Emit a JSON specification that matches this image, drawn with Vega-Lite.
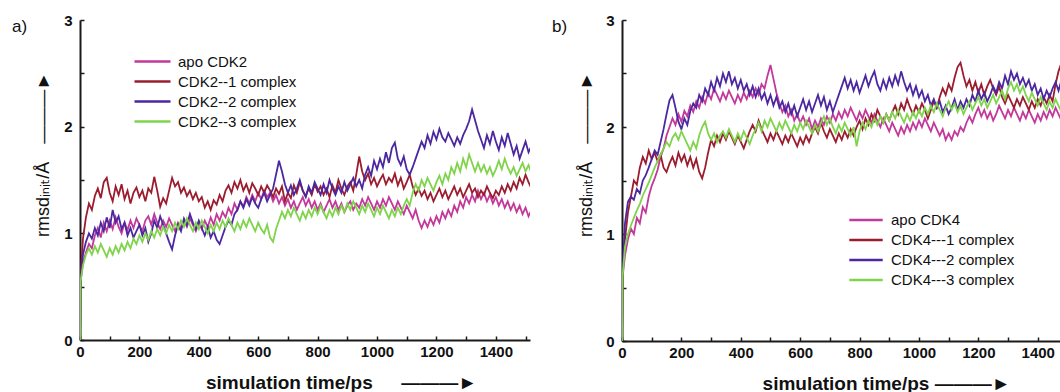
{
"$schema": "https://vega.github.io/schema/vega-lite/v6.json",
"background": "white",
"padding": {"left": 12, "top": 13, "right": 0, "bottom": 0},
"bounds": "flush",
"spacing": 92,
"resolve": {"scale": {"color": "independent", "x": "independent", "y": "independent"}, "legend": {"color": "independent"}},
"config": {
  "view": {"stroke": null},
  "axis": {"grid": false, "domainColor": "#1a1a1a", "domainWidth": 2, "tickColor": "#1a1a1a", "tickWidth": 1.5, "tickSize": -4, "labelFont": "Liberation Sans", "labelFontSize": 15, "labelFontWeight": "bold", "labelColor": "#111", "labelFlush": false, "labelOverlap": false, "titleFont": "Liberation Sans, DejaVu Sans", "titleColor": "#111"},
  "axisX": {"labelPadding": 8, "titleFontSize": 19, "titleFontWeight": "bold", "titleY": 48, "titleBaseline": "alphabetic", "titleAlign": "center"},
  "axisY": {"labelPadding": 12, "titleFontSize": 18, "titleFontWeight": "normal", "titleAngle": -90, "titleX": -37, "titleY": 134, "titleBaseline": "middle", "titleAlign": "center"},
  "legend": {"orient": "none", "direction": "vertical", "title": null, "symbolType": "M-2,0H2", "symbolSize": 324, "symbolStrokeWidth": 2.5, "labelFont": "Liberation Sans", "labelFontSize": 15, "labelColor": "#111", "labelOffset": 15, "rowPadding": 1, "padding": 0, "labelLimit": 300}
},
"datasets": {
"a": [
{"t":0,"apo":0,"c1":0,"c2":0,"c3":0},
{"t":2,"apo":0.55,"c1":0.58,"c2":0.56,"c3":0.55},
{"t":10,"apo":0.72,"c1":0.95,"c2":0.80,"c3":0.70},
{"t":20,"apo":0.82,"c1":1.15,"c2":0.92,"c3":0.80},
{"t":30,"apo":0.90,"c1":1.28,"c2":1.00,"c3":0.86},
{"t":40,"apo":0.86,"c1":1.22,"c2":0.95,"c3":0.80},
{"t":50,"apo":0.98,"c1":1.35,"c2":1.05,"c3":0.88},
{"t":60,"apo":1.05,"c1":1.42,"c2":0.98,"c3":0.82},
{"t":70,"apo":0.96,"c1":1.33,"c2":1.10,"c3":0.90},
{"t":80,"apo":1.10,"c1":1.48,"c2":1.02,"c3":0.84},
{"t":90,"apo":1.02,"c1":1.52,"c2":1.15,"c3":0.78},
{"t":100,"apo":1.12,"c1":1.38,"c2":1.05,"c3":0.86},
{"t":110,"apo":1.04,"c1":1.30,"c2":1.22,"c3":0.80},
{"t":120,"apo":1.15,"c1":1.44,"c2":1.10,"c3":0.88},
{"t":130,"apo":1.06,"c1":1.36,"c2":1.16,"c3":0.82},
{"t":140,"apo":1.00,"c1":1.46,"c2":1.04,"c3":0.90},
{"t":150,"apo":1.10,"c1":1.32,"c2":1.10,"c3":0.84},
{"t":160,"apo":1.03,"c1":1.40,"c2":0.98,"c3":0.92},
{"t":170,"apo":1.12,"c1":1.28,"c2":1.05,"c3":0.86},
{"t":180,"apo":1.05,"c1":1.38,"c2":0.96,"c3":0.95},
{"t":190,"apo":1.14,"c1":1.43,"c2":1.02,"c3":0.90},
{"t":200,"apo":1.08,"c1":1.34,"c2":1.08,"c3":0.98},
{"t":210,"apo":1.02,"c1":1.40,"c2":0.98,"c3":0.92},
{"t":220,"apo":1.12,"c1":1.30,"c2":1.05,"c3":1.00},
{"t":230,"apo":1.16,"c1":1.42,"c2":0.92,"c3":0.94},
{"t":240,"apo":1.08,"c1":1.38,"c2":1.00,"c3":1.02},
{"t":250,"apo":1.18,"c1":1.53,"c2":1.12,"c3":0.96},
{"t":260,"apo":1.10,"c1":1.40,"c2":1.05,"c3":1.04},
{"t":270,"apo":1.04,"c1":1.25,"c2":1.16,"c3":0.98},
{"t":280,"apo":1.12,"c1":1.33,"c2":1.08,"c3":1.06},
{"t":290,"apo":1.06,"c1":1.28,"c2":1.00,"c3":1.00},
{"t":300,"apo":1.14,"c1":1.40,"c2":0.92,"c3":1.08},
{"t":310,"apo":1.08,"c1":1.52,"c2":0.85,"c3":1.02},
{"t":320,"apo":1.02,"c1":1.44,"c2":0.98,"c3":1.10},
{"t":330,"apo":1.10,"c1":1.48,"c2":1.08,"c3":1.04},
{"t":340,"apo":1.05,"c1":1.38,"c2":1.02,"c3":1.12},
{"t":350,"apo":1.12,"c1":1.43,"c2":1.14,"c3":1.06},
{"t":360,"apo":1.06,"c1":1.35,"c2":1.08,"c3":1.14},
{"t":370,"apo":1.14,"c1":1.40,"c2":1.18,"c3":1.08},
{"t":380,"apo":1.08,"c1":1.32,"c2":1.10,"c3":1.02},
{"t":390,"apo":1.02,"c1":1.38,"c2":1.04,"c3":1.10},
{"t":400,"apo":1.10,"c1":1.30,"c2":1.12,"c3":1.04},
{"t":410,"apo":1.04,"c1":1.34,"c2":1.05,"c3":1.12},
{"t":420,"apo":1.12,"c1":1.24,"c2":0.98,"c3":1.06},
{"t":430,"apo":1.06,"c1":1.30,"c2":1.06,"c3":1.00},
{"t":440,"apo":1.15,"c1":1.22,"c2":0.96,"c3":1.08},
{"t":450,"apo":1.08,"c1":1.31,"c2":1.02,"c3":1.02},
{"t":460,"apo":1.18,"c1":1.27,"c2":0.94,"c3":1.10},
{"t":470,"apo":1.12,"c1":1.36,"c2":0.90,"c3":1.04},
{"t":480,"apo":1.20,"c1":1.30,"c2":0.98,"c3":1.12},
{"t":490,"apo":1.15,"c1":1.40,"c2":1.06,"c3":1.06},
{"t":500,"apo":1.24,"c1":1.45,"c2":1.12,"c3":1.14},
{"t":510,"apo":1.18,"c1":1.38,"c2":1.08,"c3":1.08},
{"t":520,"apo":1.28,"c1":1.48,"c2":1.18,"c3":1.02},
{"t":530,"apo":1.22,"c1":1.42,"c2":1.22,"c3":1.10},
{"t":540,"apo":1.30,"c1":1.50,"c2":1.30,"c3":1.04},
{"t":550,"apo":1.25,"c1":1.40,"c2":1.24,"c3":1.12},
{"t":560,"apo":1.34,"c1":1.46,"c2":1.32,"c3":1.06},
{"t":570,"apo":1.28,"c1":1.38,"c2":1.26,"c3":1.14},
{"t":580,"apo":1.36,"c1":1.47,"c2":1.34,"c3":1.08},
{"t":590,"apo":1.30,"c1":1.42,"c2":1.28,"c3":1.02},
{"t":600,"apo":1.38,"c1":1.36,"c2":1.24,"c3":1.10},
{"t":610,"apo":1.32,"c1":1.44,"c2":1.32,"c3":1.04},
{"t":620,"apo":1.40,"c1":1.38,"c2":1.38,"c3":1.00},
{"t":630,"apo":1.34,"c1":1.45,"c2":1.30,"c3":1.08},
{"t":640,"apo":1.38,"c1":1.40,"c2":1.36,"c3":0.96},
{"t":650,"apo":1.30,"c1":1.34,"c2":1.42,"c3":0.92},
{"t":660,"apo":1.36,"c1":1.42,"c2":1.55,"c3":1.04},
{"t":670,"apo":1.28,"c1":1.37,"c2":1.68,"c3":1.12},
{"t":680,"apo":1.34,"c1":1.44,"c2":1.58,"c3":1.20},
{"t":690,"apo":1.26,"c1":1.30,"c2":1.46,"c3":1.14},
{"t":700,"apo":1.32,"c1":1.38,"c2":1.38,"c3":1.22},
{"t":710,"apo":1.24,"c1":1.33,"c2":1.45,"c3":1.16},
{"t":720,"apo":1.30,"c1":1.45,"c2":1.36,"c3":1.24},
{"t":730,"apo":1.22,"c1":1.38,"c2":1.42,"c3":1.18},
{"t":740,"apo":1.28,"c1":1.48,"c2":1.50,"c3":1.12},
{"t":750,"apo":1.34,"c1":1.40,"c2":1.40,"c3":1.20},
{"t":760,"apo":1.26,"c1":1.35,"c2":1.34,"c3":1.14},
{"t":770,"apo":1.32,"c1":1.42,"c2":1.44,"c3":1.22},
{"t":780,"apo":1.24,"c1":1.36,"c2":1.38,"c3":1.16},
{"t":790,"apo":1.30,"c1":1.46,"c2":1.48,"c3":1.24},
{"t":800,"apo":1.22,"c1":1.39,"c2":1.42,"c3":1.18},
{"t":810,"apo":1.28,"c1":1.44,"c2":1.36,"c3":1.26},
{"t":820,"apo":1.20,"c1":1.36,"c2":1.46,"c3":1.20},
{"t":830,"apo":1.26,"c1":1.42,"c2":1.38,"c3":1.14},
{"t":840,"apo":1.32,"c1":1.34,"c2":1.50,"c3":1.22},
{"t":850,"apo":1.24,"c1":1.45,"c2":1.42,"c3":1.16},
{"t":860,"apo":1.30,"c1":1.38,"c2":1.36,"c3":1.24},
{"t":870,"apo":1.22,"c1":1.50,"c2":1.44,"c3":1.18},
{"t":880,"apo":1.28,"c1":1.42,"c2":1.38,"c3":1.26},
{"t":890,"apo":1.20,"c1":1.36,"c2":1.48,"c3":1.20},
{"t":900,"apo":1.26,"c1":1.44,"c2":1.40,"c3":1.28},
{"t":910,"apo":1.30,"c1":1.48,"c2":1.46,"c3":1.22},
{"t":920,"apo":1.22,"c1":1.40,"c2":1.52,"c3":1.30},
{"t":930,"apo":1.28,"c1":1.55,"c2":1.44,"c3":1.24},
{"t":940,"apo":1.24,"c1":1.72,"c2":1.50,"c3":1.18},
{"t":950,"apo":1.32,"c1":1.58,"c2":1.42,"c3":1.26},
{"t":960,"apo":1.26,"c1":1.50,"c2":1.55,"c3":1.20},
{"t":970,"apo":1.34,"c1":1.56,"c2":1.62,"c3":1.28},
{"t":980,"apo":1.28,"c1":1.46,"c2":1.54,"c3":1.22},
{"t":990,"apo":1.22,"c1":1.52,"c2":1.68,"c3":1.16},
{"t":1000,"apo":1.30,"c1":1.44,"c2":1.60,"c3":1.24},
{"t":1010,"apo":1.24,"c1":1.50,"c2":1.70,"c3":1.18},
{"t":1020,"apo":1.32,"c1":1.55,"c2":1.62,"c3":1.26},
{"t":1030,"apo":1.26,"c1":1.46,"c2":1.76,"c3":1.20},
{"t":1040,"apo":1.34,"c1":1.52,"c2":1.66,"c3":1.14},
{"t":1050,"apo":1.28,"c1":1.48,"c2":1.80,"c3":1.22},
{"t":1060,"apo":1.22,"c1":1.56,"c2":1.85,"c3":1.16},
{"t":1070,"apo":1.30,"c1":1.45,"c2":1.70,"c3":1.24},
{"t":1080,"apo":1.24,"c1":1.52,"c2":1.64,"c3":1.18},
{"t":1090,"apo":1.18,"c1":1.42,"c2":1.72,"c3":1.26},
{"t":1100,"apo":1.26,"c1":1.48,"c2":1.60,"c3":1.32},
{"t":1110,"apo":1.20,"c1":1.55,"c2":1.55,"c3":1.26},
{"t":1120,"apo":1.14,"c1":1.44,"c2":1.62,"c3":1.38},
{"t":1130,"apo":1.22,"c1":1.36,"c2":1.70,"c3":1.46},
{"t":1140,"apo":1.12,"c1":1.42,"c2":1.78,"c3":1.40},
{"t":1150,"apo":1.05,"c1":1.35,"c2":1.86,"c3":1.50},
{"t":1160,"apo":1.12,"c1":1.40,"c2":1.80,"c3":1.44},
{"t":1170,"apo":1.06,"c1":1.32,"c2":1.92,"c3":1.52},
{"t":1180,"apo":1.14,"c1":1.38,"c2":1.84,"c3":1.46},
{"t":1190,"apo":1.08,"c1":1.30,"c2":1.95,"c3":1.40},
{"t":1200,"apo":1.16,"c1":1.36,"c2":1.88,"c3":1.48},
{"t":1210,"apo":1.10,"c1":1.42,"c2":1.98,"c3":1.54},
{"t":1220,"apo":1.20,"c1":1.34,"c2":1.90,"c3":1.46},
{"t":1230,"apo":1.14,"c1":1.40,"c2":1.86,"c3":1.56},
{"t":1240,"apo":1.22,"c1":1.32,"c2":1.94,"c3":1.50},
{"t":1250,"apo":1.16,"c1":1.38,"c2":1.88,"c3":1.62},
{"t":1260,"apo":1.26,"c1":1.44,"c2":1.82,"c3":1.56},
{"t":1270,"apo":1.20,"c1":1.36,"c2":1.90,"c3":1.66},
{"t":1280,"apo":1.30,"c1":1.42,"c2":1.84,"c3":1.58},
{"t":1290,"apo":1.24,"c1":1.34,"c2":1.92,"c3":1.70},
{"t":1300,"apo":1.34,"c1":1.40,"c2":1.98,"c3":1.62},
{"t":1310,"apo":1.28,"c1":1.46,"c2":2.05,"c3":1.74},
{"t":1320,"apo":1.36,"c1":1.38,"c2":2.16,"c3":1.66},
{"t":1330,"apo":1.30,"c1":1.42,"c2":2.06,"c3":1.58},
{"t":1340,"apo":1.40,"c1":1.34,"c2":1.96,"c3":1.66},
{"t":1350,"apo":1.32,"c1":1.40,"c2":1.88,"c3":1.58},
{"t":1360,"apo":1.38,"c1":1.36,"c2":1.80,"c3":1.64},
{"t":1370,"apo":1.30,"c1":1.44,"c2":1.92,"c3":1.56},
{"t":1380,"apo":1.36,"c1":1.38,"c2":1.84,"c3":1.62},
{"t":1390,"apo":1.28,"c1":1.33,"c2":1.96,"c3":1.54},
{"t":1400,"apo":1.34,"c1":1.40,"c2":1.86,"c3":1.60},
{"t":1410,"apo":1.26,"c1":1.36,"c2":1.78,"c3":1.68},
{"t":1420,"apo":1.32,"c1":1.44,"c2":1.90,"c3":1.60},
{"t":1430,"apo":1.24,"c1":1.38,"c2":1.82,"c3":1.70},
{"t":1440,"apo":1.30,"c1":1.46,"c2":1.94,"c3":1.62},
{"t":1450,"apo":1.22,"c1":1.40,"c2":1.84,"c3":1.56},
{"t":1460,"apo":1.28,"c1":1.48,"c2":1.74,"c3":1.62},
{"t":1470,"apo":1.20,"c1":1.42,"c2":1.82,"c3":1.54},
{"t":1480,"apo":1.26,"c1":1.52,"c2":1.70,"c3":1.60},
{"t":1490,"apo":1.18,"c1":1.46,"c2":1.78,"c3":1.66},
{"t":1500,"apo":1.24,"c1":1.55,"c2":1.86,"c3":1.58},
{"t":1510,"apo":1.16,"c1":1.48,"c2":1.76,"c3":1.64},
{"t":1520,"apo":1.22,"c1":1.42,"c2":1.82,"c3":1.56}
],
"b": [
{"t":0,"apo":0,"c1":0,"c2":0,"c3":0},
{"t":2,"apo":0.60,"c1":0.62,"c2":0.64,"c3":0.60},
{"t":10,"apo":0.80,"c1":0.95,"c2":1.10,"c3":0.88},
{"t":20,"apo":0.95,"c1":1.20,"c2":1.30,"c3":1.00},
{"t":30,"apo":1.05,"c1":1.35,"c2":1.35,"c3":1.08},
{"t":40,"apo":1.00,"c1":1.50,"c2":1.32,"c3":1.15},
{"t":50,"apo":1.15,"c1":1.46,"c2":1.42,"c3":1.22},
{"t":60,"apo":1.10,"c1":1.62,"c2":1.38,"c3":1.28},
{"t":70,"apo":1.25,"c1":1.72,"c2":1.50,"c3":1.36},
{"t":80,"apo":1.20,"c1":1.66,"c2":1.55,"c3":1.42},
{"t":90,"apo":1.35,"c1":1.78,"c2":1.62,"c3":1.48},
{"t":100,"apo":1.45,"c1":1.70,"c2":1.70,"c3":1.55},
{"t":110,"apo":1.52,"c1":1.76,"c2":1.78,"c3":1.62},
{"t":120,"apo":1.60,"c1":1.68,"c2":1.74,"c3":1.68},
{"t":130,"apo":1.72,"c1":1.74,"c2":1.86,"c3":1.74},
{"t":140,"apo":1.80,"c1":1.62,"c2":1.98,"c3":1.80},
{"t":150,"apo":1.92,"c1":1.58,"c2":2.12,"c3":1.86},
{"t":160,"apo":2.00,"c1":1.66,"c2":2.25,"c3":1.82},
{"t":170,"apo":2.08,"c1":1.72,"c2":2.30,"c3":1.90},
{"t":180,"apo":2.02,"c1":1.64,"c2":2.18,"c3":1.94},
{"t":190,"apo":2.12,"c1":1.76,"c2":2.05,"c3":1.88},
{"t":200,"apo":2.05,"c1":1.68,"c2":1.98,"c3":1.96},
{"t":210,"apo":2.15,"c1":1.74,"c2":2.08,"c3":1.90},
{"t":220,"apo":2.10,"c1":1.64,"c2":2.02,"c3":1.84},
{"t":230,"apo":2.20,"c1":1.72,"c2":2.15,"c3":1.78},
{"t":240,"apo":2.14,"c1":1.62,"c2":2.22,"c3":1.86},
{"t":250,"apo":2.24,"c1":1.70,"c2":2.18,"c3":1.80},
{"t":260,"apo":2.18,"c1":1.58,"c2":2.30,"c3":1.92},
{"t":270,"apo":2.28,"c1":1.52,"c2":2.24,"c3":2.00},
{"t":280,"apo":2.22,"c1":1.62,"c2":2.36,"c3":2.05},
{"t":290,"apo":2.32,"c1":1.76,"c2":2.30,"c3":1.94},
{"t":300,"apo":2.26,"c1":1.88,"c2":2.42,"c3":1.88},
{"t":310,"apo":2.36,"c1":1.82,"c2":2.34,"c3":1.94},
{"t":320,"apo":2.30,"c1":1.92,"c2":2.46,"c3":1.86},
{"t":330,"apo":2.24,"c1":1.86,"c2":2.38,"c3":1.92},
{"t":340,"apo":2.32,"c1":1.94,"c2":2.50,"c3":1.96},
{"t":350,"apo":2.26,"c1":1.88,"c2":2.42,"c3":1.90},
{"t":360,"apo":2.34,"c1":1.96,"c2":2.52,"c3":1.98},
{"t":370,"apo":2.28,"c1":1.90,"c2":2.40,"c3":1.92},
{"t":380,"apo":2.22,"c1":1.84,"c2":2.46,"c3":1.86},
{"t":390,"apo":2.30,"c1":1.92,"c2":2.36,"c3":1.94},
{"t":400,"apo":2.24,"c1":1.86,"c2":2.44,"c3":1.88},
{"t":410,"apo":2.32,"c1":1.80,"c2":2.34,"c3":1.96},
{"t":420,"apo":2.26,"c1":1.88,"c2":2.40,"c3":1.90},
{"t":430,"apo":2.34,"c1":1.96,"c2":2.30,"c3":1.84},
{"t":440,"apo":2.28,"c1":2.02,"c2":2.38,"c3":1.92},
{"t":450,"apo":2.36,"c1":1.96,"c2":2.28,"c3":1.98},
{"t":460,"apo":2.30,"c1":2.06,"c2":2.36,"c3":2.04},
{"t":470,"apo":2.40,"c1":1.98,"c2":2.26,"c3":1.96},
{"t":480,"apo":2.36,"c1":1.92,"c2":2.32,"c3":2.06},
{"t":490,"apo":2.48,"c1":1.86,"c2":2.22,"c3":2.00},
{"t":500,"apo":2.58,"c1":1.94,"c2":2.30,"c3":2.08},
{"t":510,"apo":2.45,"c1":1.88,"c2":2.20,"c3":2.02},
{"t":520,"apo":2.32,"c1":1.96,"c2":2.28,"c3":1.96},
{"t":530,"apo":2.22,"c1":1.90,"c2":2.18,"c3":2.04},
{"t":540,"apo":2.14,"c1":1.84,"c2":2.24,"c3":1.98},
{"t":550,"apo":2.20,"c1":1.92,"c2":2.14,"c3":2.06},
{"t":560,"apo":2.10,"c1":1.86,"c2":2.22,"c3":2.00},
{"t":570,"apo":2.16,"c1":1.94,"c2":2.12,"c3":1.94},
{"t":580,"apo":2.06,"c1":1.88,"c2":2.20,"c3":2.02},
{"t":590,"apo":2.12,"c1":1.82,"c2":2.10,"c3":1.96},
{"t":600,"apo":2.04,"c1":1.90,"c2":2.18,"c3":2.04},
{"t":610,"apo":2.10,"c1":1.84,"c2":2.26,"c3":1.98},
{"t":620,"apo":2.02,"c1":1.92,"c2":2.16,"c3":2.06},
{"t":630,"apo":2.08,"c1":1.86,"c2":2.24,"c3":2.00},
{"t":640,"apo":1.98,"c1":1.94,"c2":2.14,"c3":1.94},
{"t":650,"apo":2.06,"c1":2.00,"c2":2.22,"c3":2.02},
{"t":660,"apo":2.00,"c1":1.94,"c2":2.30,"c3":1.96},
{"t":670,"apo":2.08,"c1":2.04,"c2":2.20,"c3":2.04},
{"t":680,"apo":2.02,"c1":1.96,"c2":2.28,"c3":2.10},
{"t":690,"apo":2.10,"c1":1.90,"c2":2.16,"c3":2.02},
{"t":700,"apo":2.04,"c1":1.98,"c2":2.24,"c3":2.08},
{"t":710,"apo":2.12,"c1":1.92,"c2":2.14,"c3":2.00},
{"t":720,"apo":2.06,"c1":1.86,"c2":2.22,"c3":1.94},
{"t":730,"apo":2.14,"c1":1.94,"c2":2.30,"c3":2.02},
{"t":740,"apo":2.08,"c1":1.88,"c2":2.38,"c3":1.96},
{"t":750,"apo":2.16,"c1":1.96,"c2":2.46,"c3":2.04},
{"t":760,"apo":2.10,"c1":1.90,"c2":2.36,"c3":1.98},
{"t":770,"apo":2.18,"c1":1.98,"c2":2.44,"c3":1.92},
{"t":780,"apo":2.12,"c1":1.92,"c2":2.34,"c3":2.00},
{"t":790,"apo":2.06,"c1":2.00,"c2":2.42,"c3":1.82},
{"t":800,"apo":2.14,"c1":2.06,"c2":2.32,"c3":1.96},
{"t":810,"apo":2.08,"c1":1.98,"c2":2.40,"c3":2.04},
{"t":820,"apo":2.16,"c1":2.08,"c2":2.48,"c3":1.98},
{"t":830,"apo":2.10,"c1":2.02,"c2":2.38,"c3":2.06},
{"t":840,"apo":2.04,"c1":2.12,"c2":2.46,"c3":2.00},
{"t":850,"apo":2.12,"c1":2.06,"c2":2.52,"c3":2.08},
{"t":860,"apo":2.06,"c1":2.16,"c2":2.40,"c3":2.02},
{"t":870,"apo":2.00,"c1":2.10,"c2":2.34,"c3":2.10},
{"t":880,"apo":2.08,"c1":2.04,"c2":2.44,"c3":2.04},
{"t":890,"apo":2.02,"c1":2.12,"c2":2.36,"c3":2.12},
{"t":900,"apo":1.96,"c1":2.06,"c2":2.46,"c3":2.06},
{"t":910,"apo":2.04,"c1":2.14,"c2":2.38,"c3":2.14},
{"t":920,"apo":1.98,"c1":2.20,"c2":2.48,"c3":2.08},
{"t":930,"apo":1.92,"c1":2.12,"c2":2.40,"c3":2.16},
{"t":940,"apo":2.00,"c1":2.22,"c2":2.52,"c3":2.10},
{"t":950,"apo":1.94,"c1":2.16,"c2":2.42,"c3":2.04},
{"t":960,"apo":2.02,"c1":2.26,"c2":2.34,"c3":2.12},
{"t":970,"apo":1.96,"c1":2.18,"c2":2.40,"c3":2.06},
{"t":980,"apo":2.04,"c1":2.12,"c2":2.30,"c3":2.14},
{"t":990,"apo":1.98,"c1":2.20,"c2":2.38,"c3":2.08},
{"t":1000,"apo":2.06,"c1":2.14,"c2":2.28,"c3":2.16},
{"t":1010,"apo":2.00,"c1":2.22,"c2":2.34,"c3":2.10},
{"t":1020,"apo":2.08,"c1":2.16,"c2":2.24,"c3":2.18},
{"t":1030,"apo":2.02,"c1":2.08,"c2":2.30,"c3":2.12},
{"t":1040,"apo":1.96,"c1":2.16,"c2":2.20,"c3":2.20},
{"t":1050,"apo":2.04,"c1":2.24,"c2":2.26,"c3":2.14},
{"t":1060,"apo":1.98,"c1":2.18,"c2":2.18,"c3":2.22},
{"t":1070,"apo":1.92,"c1":2.28,"c2":2.24,"c3":2.16},
{"t":1080,"apo":1.98,"c1":2.36,"c2":2.14,"c3":2.10},
{"t":1090,"apo":1.88,"c1":2.30,"c2":2.20,"c3":2.18},
{"t":1100,"apo":1.94,"c1":2.40,"c2":2.12,"c3":2.24},
{"t":1110,"apo":1.88,"c1":2.34,"c2":2.18,"c3":2.16},
{"t":1120,"apo":1.96,"c1":2.46,"c2":2.26,"c3":2.22},
{"t":1130,"apo":1.92,"c1":2.56,"c2":2.16,"c3":2.14},
{"t":1140,"apo":2.00,"c1":2.60,"c2":2.24,"c3":2.20},
{"t":1150,"apo":1.96,"c1":2.48,"c2":2.18,"c3":2.12},
{"t":1160,"apo":2.04,"c1":2.38,"c2":2.26,"c3":2.18},
{"t":1170,"apo":2.10,"c1":2.44,"c2":2.20,"c3":2.24},
{"t":1180,"apo":2.04,"c1":2.34,"c2":2.30,"c3":2.16},
{"t":1190,"apo":2.12,"c1":2.42,"c2":2.24,"c3":2.22},
{"t":1200,"apo":2.18,"c1":2.32,"c2":2.34,"c3":2.28},
{"t":1210,"apo":2.10,"c1":2.40,"c2":2.26,"c3":2.20},
{"t":1220,"apo":2.16,"c1":2.30,"c2":2.32,"c3":2.26},
{"t":1230,"apo":2.08,"c1":2.38,"c2":2.24,"c3":2.18},
{"t":1240,"apo":2.14,"c1":2.44,"c2":2.30,"c3":2.24},
{"t":1250,"apo":2.06,"c1":2.36,"c2":2.38,"c3":2.30},
{"t":1260,"apo":2.12,"c1":2.30,"c2":2.32,"c3":2.22},
{"t":1270,"apo":2.20,"c1":2.38,"c2":2.42,"c3":2.28},
{"t":1280,"apo":2.14,"c1":2.28,"c2":2.36,"c3":2.34},
{"t":1290,"apo":2.08,"c1":2.22,"c2":2.48,"c3":2.26},
{"t":1300,"apo":2.16,"c1":2.30,"c2":2.40,"c3":2.36},
{"t":1310,"apo":2.10,"c1":2.24,"c2":2.52,"c3":2.42},
{"t":1320,"apo":2.18,"c1":2.18,"c2":2.44,"c3":2.34},
{"t":1330,"apo":2.12,"c1":2.26,"c2":2.50,"c3":2.40},
{"t":1340,"apo":2.06,"c1":2.20,"c2":2.40,"c3":2.32},
{"t":1350,"apo":2.14,"c1":2.28,"c2":2.46,"c3":2.38},
{"t":1360,"apo":2.08,"c1":2.22,"c2":2.38,"c3":2.30},
{"t":1370,"apo":2.16,"c1":2.16,"c2":2.44,"c3":2.24},
{"t":1380,"apo":2.10,"c1":2.24,"c2":2.34,"c3":2.32},
{"t":1390,"apo":2.04,"c1":2.18,"c2":2.40,"c3":2.26},
{"t":1400,"apo":2.12,"c1":2.26,"c2":2.30,"c3":2.20},
{"t":1410,"apo":2.06,"c1":2.20,"c2":2.36,"c3":2.28},
{"t":1420,"apo":2.14,"c1":2.28,"c2":2.26,"c3":2.22},
{"t":1430,"apo":2.08,"c1":2.22,"c2":2.34,"c3":2.16},
{"t":1440,"apo":2.16,"c1":2.30,"c2":2.28,"c3":2.24},
{"t":1450,"apo":2.10,"c1":2.24,"c2":2.36,"c3":2.18},
{"t":1460,"apo":2.18,"c1":2.40,"c2":2.42,"c3":2.26},
{"t":1470,"apo":2.12,"c1":2.52,"c2":2.34,"c3":2.20},
{"t":1480,"apo":2.06,"c1":2.60,"c2":2.44,"c3":2.14}
]
},
"hconcat": [
{
  "width": 450, "height": 320,
  "data": {"name": "a"},
  "transform": [{"fold": ["apo", "c1", "c2", "c3"], "as": ["series", "rmsd"]}],
  "title": {"text": "a)", "anchor": "start", "frame": "group", "dx": -68, "dy": 36, "offset": 0, "baseline": "alphabetic", "fontSize": 17, "fontWeight": "normal", "font": "Liberation Sans", "color": "#111"},
  "mark": {"type": "line", "strokeWidth": 1.8, "clip": true},
  "encoding": {
    "x": {"field": "t", "type": "quantitative", "scale": {"domain": [0, 1515], "nice": false, "zero": false},
      "axis": {"values": [0,100,200,300,400,500,600,700,800,900,1000,1100,1200,1300,1400,1500], "format": "d", "labelExpr": "datum.value % 200 === 0 ? datum.label : ''", "title": "simulation time/ps\u2003\u2002———►", "titleX": 261}},
    "y": {"field": "rmsd", "type": "quantitative", "scale": {"domain": [0, 3], "nice": false},
      "axis": {"values": [0,0.5,1,1.5,2,2.5,3], "labelExpr": "datum.value % 1 === 0 ? format(datum.value, 'd') : ''", "title": "rmsdᵢₙᵢₜ/Å\u2003———►"}},
    "color": {"field": "series", "type": "nominal",
      "scale": {"domain": ["apo", "c1", "c2", "c3"], "range": ["#c2399b", "#9b1c2e", "#4b27a0", "#7fd44c"]},
      "legend": {"legendX": 62, "legendY": 31, "labelExpr": "datum.label === 'apo' ? 'apo CDK2' : datum.label === 'c1' ? 'CDK2--1 complex' : datum.label === 'c2' ? 'CDK2--2 complex' : 'CDK2--3 complex'"}}
  }
},
{
  "width": 438, "height": 321,
  "data": {"name": "b"},
  "transform": [{"fold": ["apo", "c1", "c2", "c3"], "as": ["series", "rmsd"]}],
  "title": {"text": "b)", "anchor": "start", "frame": "group", "dx": -70, "dy": 36, "offset": 0, "baseline": "alphabetic", "fontSize": 17, "fontWeight": "normal", "font": "Liberation Sans", "color": "#111"},
  "mark": {"type": "line", "strokeWidth": 1.8, "clip": true},
  "encoding": {
    "x": {"field": "t", "type": "quantitative", "scale": {"domain": [0, 1475], "nice": false, "zero": false},
      "axis": {"values": [0,100,200,300,400,500,600,700,800,900,1000,1100,1200,1300,1400], "format": "d", "labelExpr": "datum.value % 200 === 0 ? datum.label : ''", "title": "simulation time/ps ———►", "titleX": 264}},
    "y": {"field": "rmsd", "type": "quantitative", "scale": {"domain": [0, 3], "nice": false},
      "axis": {"values": [0,0.5,1,1.5,2,2.5,3], "labelExpr": "datum.value % 1 === 0 ? format(datum.value, 'd') : ''", "title": "rmsdᵢₙᵢₜ/Å\u2003———►", "titleX": -36}},
    "color": {"field": "series", "type": "nominal",
      "scale": {"domain": ["apo", "c1", "c2", "c3"], "range": ["#c2399b", "#9b1c2e", "#4b27a0", "#7fd44c"]},
      "legend": {"legendX": 234, "legendY": 190, "rowPadding": 2, "labelOffset": 15, "symbolSize": 279, "labelExpr": "datum.label === 'apo' ? 'apo CDK4' : datum.label === 'c1' ? 'CDK4---1 complex' : datum.label === 'c2' ? 'CDK4---2 complex' : 'CDK4---3 complex'"}}
  }
}
]
}
